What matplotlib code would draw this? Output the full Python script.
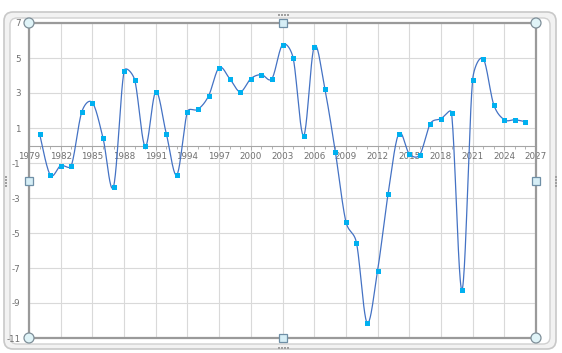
import numpy as np
import matplotlib.pyplot as plt
from matplotlib.patches import FancyBboxPatch, Rectangle, Circle

# Данные ряда (значения по годам)
years = np.arange(1980, 2027)
values = [0.67, -1.67, -1.15, -1.15, 1.93, 2.45, 0.45, -2.35, 4.24, 3.76,
          -0.05, 3.07, 0.67, -1.67, 1.93, 2.07, 2.83, 4.45, 3.82, 3.07,
          3.82, 4.05, 3.82, 5.76, 5.02, 0.56, 5.65, 3.25, -0.35, -4.35,
          -5.55, -10.12, -7.15, -2.75, 0.67, -0.47, -0.52, 1.25, 1.53, 1.87,
          -8.24, 3.76, 4.96, 2.33, 1.47, 1.47, 1.36]
x_ticks = np.arange(1979, 2028, 3)
y_ticks = np.arange(7, -12, -2)
y_labels = [str(v) for v in y_ticks]

W, H = 562, 353
SX = 507 / 48   # пикселей на год
SY = 315 / 18   # пикселей на единицу


# Сглаживание как в Excel: Безье, касательная ограничена половиной отрезка
def smooth(x, y, n=24):
    p = np.column_stack([np.asarray(x, float) * SX, np.asarray(y, float) * SY])
    p = np.vstack([p[0], p, p[-1]])
    t = np.linspace(0, 1, n)[:, None]
    out = []
    for i in range(1, len(p) - 2):
        p0, p1, p2, p3 = p[i - 1], p[i], p[i + 1], p[i + 2]
        d12 = np.hypot(*(p2 - p1))
        t1 = (p2 - p0) / 6
        t2 = (p3 - p1) / 6
        for tv in (t1, t2):
            ln = np.hypot(*tv)
            if ln > d12 / 2:
                tv *= (d12 / 2) / ln
        c1 = p1 + t1
        c2 = p2 - t2
        b = (1 - t) ** 3 * p1 + 3 * (1 - t) ** 2 * t * c1 + 3 * (1 - t) * t ** 2 * c2 + t ** 3 * p2
        out.append(b)
    out = np.vstack(out)
    return out[:, 0] / SX, out[:, 1] / SY


fig = plt.figure(figsize=(W / 100, H / 100), dpi=100)

# Рамка диаграммы (фоновая ось в пикселях)
bg = fig.add_axes([0, 0, 1, 1], zorder=-1)
bg.set_xlim(0, W)
bg.set_ylim(H, 0)
bg.axis('off')
bg.add_patch(FancyBboxPatch((4, 12), 552, 337, boxstyle="round,pad=0,rounding_size=9",
                            facecolor='#f2f2f2', edgecolor='#c8c8c8', linewidth=1.2))
bg.add_patch(FancyBboxPatch((10, 18), 540, 326, boxstyle="round,pad=0,rounding_size=7",
                            facecolor='white', edgecolor='#d0d0d0', linewidth=1.0))
for d in (-5, -2, 1, 4):
    bg.add_patch(Rectangle((283 + d, 14), 1.5, 1.5, facecolor='#a0a0a0', edgecolor='none'))
    bg.add_patch(Rectangle((283 + d, 347), 1.5, 1.5, facecolor='#a0a0a0', edgecolor='none'))
    bg.add_patch(Rectangle((5, 181 + d), 1.5, 1.5, facecolor='#a0a0a0', edgecolor='none'))
    bg.add_patch(Rectangle((555, 181 + d), 1.5, 1.5, facecolor='#a0a0a0', edgecolor='none'))

ax = fig.add_axes([29 / W, 1 - 338 / H, 507 / W, 315 / H])
ax.set_facecolor('white')

xs, ys = smooth(years, values)
ax.plot(xs, ys, color='#4472C4', linewidth=0.9, zorder=3)
ax.plot(years, values, linestyle='none', marker='s', markersize=3.6,
        color='#00B0F0', markeredgewidth=0, zorder=4)

ax.set_xlim(1979, 2027)
ax.set_ylim(-11, 7)
ax.set_xticks(x_ticks)
ax.set_xticks(np.arange(1979, 2028), minor=True)
ax.set_yticks(y_ticks)
ax.set_yticklabels(y_labels)
ax.grid(True, which='major', color='#d9d9d9', linewidth=0.8)
ax.set_axisbelow(True)

for s in ['top', 'right', 'left']:
    ax.spines[s].set_visible(False)
ax.spines['bottom'].set_position(('data', 0))
ax.spines['bottom'].set_color('#a6a6a6')
ax.spines['bottom'].set_linewidth(0.8)
ax.tick_params(axis='x', which='both', direction='out', colors='#a6a6a6',
               labelcolor='#707070', labelsize=6.3, width=0.6, pad=2)
ax.tick_params(axis='x', which='major', length=3)
ax.tick_params(axis='x', which='minor', length=2.5)
ax.tick_params(axis='y', length=0, labelcolor='#707070', labelsize=6.3, pad=6)

# Выделенная область построения
ax.add_patch(Rectangle((0, 0), 1, 1, transform=ax.transAxes, fill=False,
                       edgecolor='#9a9a9a', linewidth=1.6, zorder=5, clip_on=False))

# Маркеры выделения
for (x, y) in [(29, 23), (536, 23), (29, 338), (536, 338)]:
    fig.patches.append(Circle((x, H - y), 5, transform=None, facecolor='#e0f4f8',
                              edgecolor='#7f8f99', linewidth=0.9, zorder=10))
for (x, y) in [(283, 23), (283, 338), (29, 181), (536, 181)]:
    fig.patches.append(Rectangle((x - 4, H - y - 4), 8, 8, transform=None,
                                 facecolor='#d6eef6', edgecolor='#6f8fa6',
                                 linewidth=0.9, zorder=10))

fig.savefig('out.png', dpi=100)
